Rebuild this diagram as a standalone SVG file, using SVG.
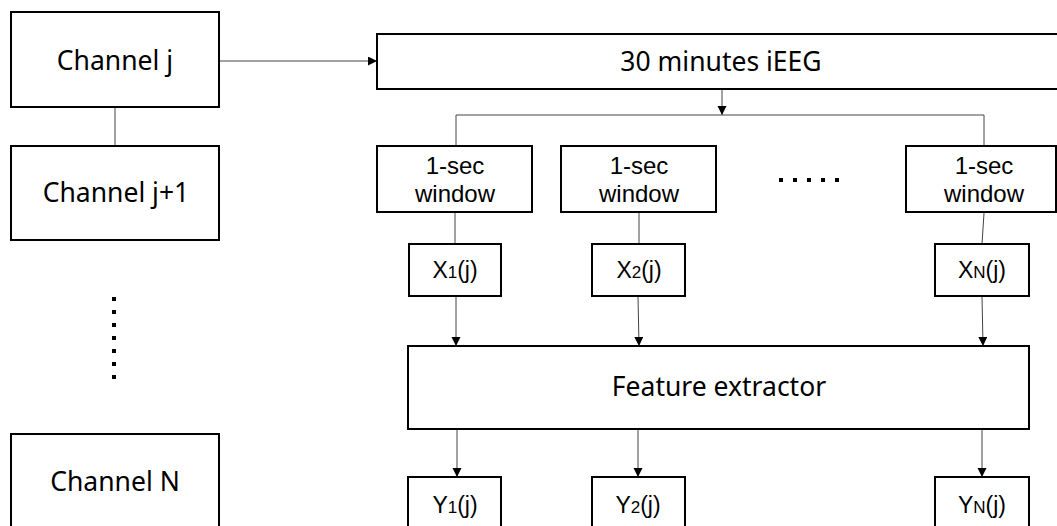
<svg xmlns="http://www.w3.org/2000/svg" width="1057" height="526" viewBox="0 0 1057 526">
<defs>
<marker id="ah" markerUnits="userSpaceOnUse" markerWidth="10" markerHeight="10" refX="9" refY="4.5" orient="auto">
<path d="M0,0 L9,4.5 L0,9 z" fill="#000"/>
</marker>
<style>
.box{fill:#fff;stroke:#000;stroke-width:2}
.con{fill:none;stroke:#444;stroke-width:1}
.arr{fill:none;stroke:#444;stroke-width:1;marker-end:url(#ah)}
.big{font-family:"Noto Sans","Open Sans",sans-serif;font-size:26.5px;fill:#000;text-anchor:middle}
.sm{font-family:"Liberation Sans",Arial,sans-serif;font-size:24px;fill:#000;text-anchor:middle}
.lab{font-family:"Liberation Sans",Arial,sans-serif;font-size:23px;fill:#000;text-anchor:middle}
.sub{font-size:17px}
.dot{fill:#000}
</style>
</defs>
<rect width="1057" height="526" fill="#fff"/>
<g id="connectors">
<line class="arr" x1="219" y1="61" x2="377" y2="61"/>
<line class="con" x1="115" y1="107" x2="115" y2="146"/>
<line class="arr" x1="722" y1="89" x2="722" y2="115"/>
<polyline class="con" points="456,146 456,115 984,115 984,146"/>
<line class="con" x1="455" y1="212" x2="455" y2="244"/>
<line class="con" x1="639" y1="212" x2="639" y2="244"/>
<line class="con" x1="984" y1="213" x2="982" y2="244"/>
<line class="arr" x1="456" y1="296" x2="456" y2="346"/>
<line class="arr" x1="638" y1="296" x2="639" y2="346"/>
<line class="arr" x1="982" y1="296" x2="983" y2="346"/>
<line class="arr" x1="457" y1="429" x2="457" y2="477"/>
<line class="arr" x1="638" y1="429" x2="638" y2="477"/>
<line class="arr" x1="982" y1="429" x2="982" y2="477"/>
</g>
<g id="channel-j"><rect class="box" x="11" y="12" width="208" height="95"/><text class="big" x="115" y="70">Channel j</text></g>
<g id="channel-j1"><rect class="box" x="11" y="146" width="208" height="94"/><text class="big" x="116" y="202">Channel j+1</text></g>
<g id="vdots">
<rect class="dot" x="112" y="297" width="4" height="4"/>
<rect class="dot" x="112" y="310" width="4" height="4"/>
<rect class="dot" x="112" y="323" width="4" height="4"/>
<rect class="dot" x="112" y="336" width="4" height="4"/>
<rect class="dot" x="112" y="349" width="4" height="4"/>
<rect class="dot" x="112" y="362" width="4" height="4"/>
<rect class="dot" x="112" y="375" width="4" height="4"/>
</g>
<g id="channel-n"><rect class="box" x="11" y="434" width="208" height="96"/><text class="big" x="115" y="491">Channel N</text></g>
<g id="ieeg"><rect class="box" x="377" y="34" width="700" height="55"/><text class="big" x="721" y="71">30 minutes iEEG</text></g>
<g id="win1"><rect class="box" x="377" y="146" width="155" height="66"/><text class="sm" x="455" y="174">1-sec</text><text class="sm" x="455" y="202">window</text></g>
<g id="win2"><rect class="box" x="561" y="146" width="155" height="66"/><text class="sm" x="639" y="174">1-sec</text><text class="sm" x="639" y="202">window</text></g>
<g id="hdots">
<rect class="dot" x="779" y="178" width="4" height="4"/>
<rect class="dot" x="793" y="178" width="4" height="4"/>
<rect class="dot" x="807" y="178" width="4" height="4"/>
<rect class="dot" x="821" y="178" width="4" height="4"/>
<rect class="dot" x="835" y="178" width="4" height="4"/>
</g>
<g id="win3"><rect class="box" x="906" y="146" width="150" height="66"/><text class="sm" x="984" y="174">1-sec</text><text class="sm" x="984" y="202">window</text></g>
<g id="x1"><rect class="box" x="409" y="244" width="92" height="52"/><text class="lab" x="455" y="278">X<tspan class="sub">1</tspan>(j)</text></g>
<g id="x2"><rect class="box" x="592" y="244" width="93" height="52"/><text class="lab" x="639" y="278">X<tspan class="sub">2</tspan>(j)</text></g>
<g id="xn"><rect class="box" x="935" y="244" width="94" height="52"/><text class="lab" x="982" y="278">X<tspan class="sub">N</tspan>(j)</text></g>
<g id="feature"><rect class="box" x="408" y="346" width="621" height="83"/><text class="big" x="719" y="396">Feature extractor</text></g>
<g id="y1"><rect class="box" x="408" y="477" width="93" height="55"/><text class="lab" x="455" y="513">Y<tspan class="sub">1</tspan>(j)</text></g>
<g id="y2"><rect class="box" x="592" y="477" width="93" height="55"/><text class="lab" x="638" y="513">Y<tspan class="sub">2</tspan>(j)</text></g>
<g id="yn"><rect class="box" x="935" y="477" width="94" height="55"/><text class="lab" x="982" y="513">Y<tspan class="sub">N</tspan>(j)</text></g>
</svg>
